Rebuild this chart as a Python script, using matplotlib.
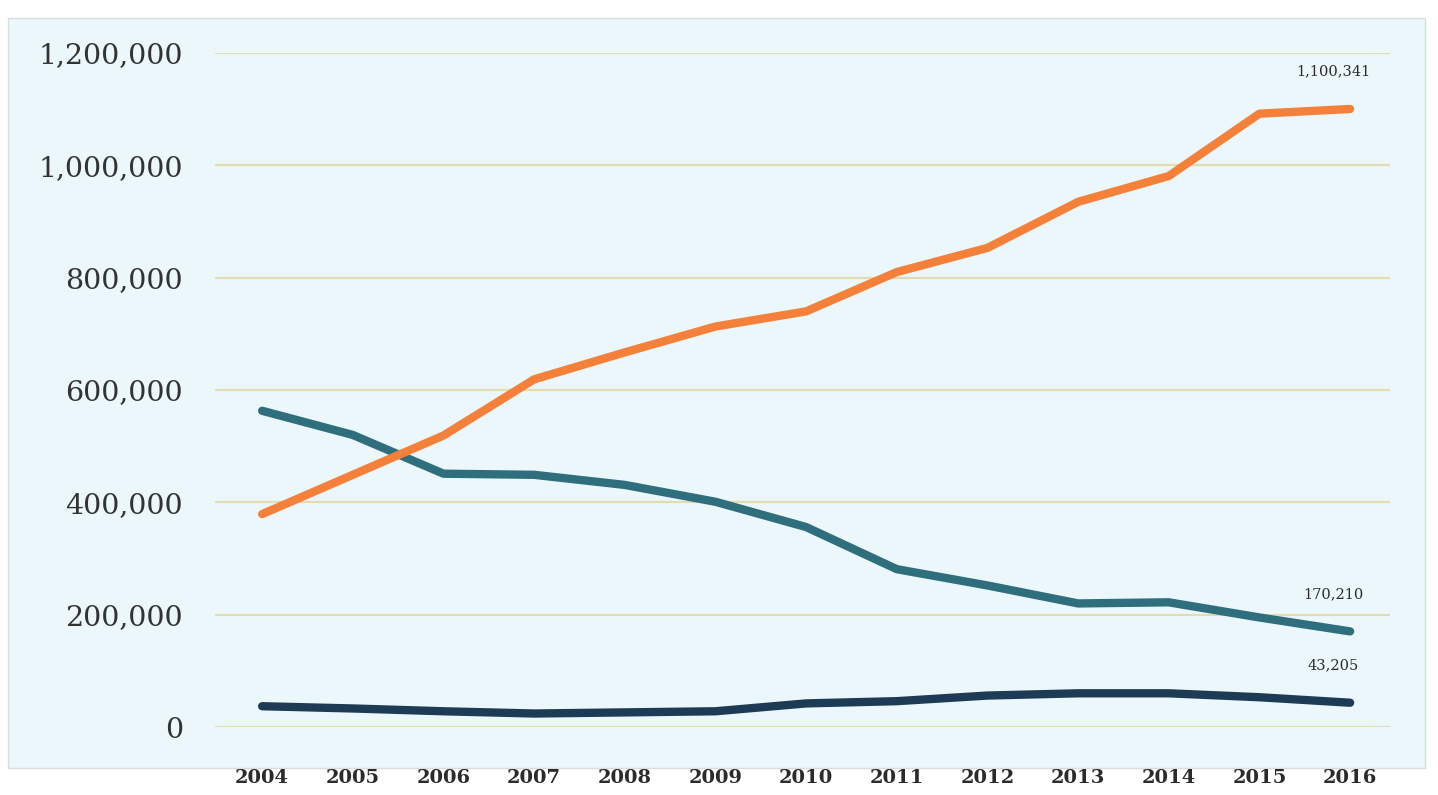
#!/usr/bin/env python3
"""Three-series line chart, 2004-2016, on a pale blue panel."""
import matplotlib

matplotlib.use("Agg")
import matplotlib.pyplot as plt
from matplotlib.patches import Rectangle
from matplotlib.ticker import FuncFormatter

years = list(range(2004, 2017))
orange_series = [379000, 449000, 519000, 619000, 667000, 713000, 740000,
                 810000, 853000, 935000, 981000, 1092000, 1100341]
teal_series = [563000, 520000, 451000, 449000, 431000, 401000, 356000,
               281000, 252000, 220000, 222000, 195000, 170210]
navy_series = [37000, 33000, 28000, 24000, 26000, 28000, 42000,
               46000, 56000, 60000, 60000, 53000, 43205]
y_ticks = [0, 200000, 400000, 600000, 800000, 1000000, 1200000]

ORANGE = "#F5803A"
TEAL = "#2F6E7C"
NAVY = "#1E3B55"
PANEL = "#EBF7FB"
GRID = "#E2DCB0"
TEXT = "#2B2B2B"


def main() -> None:
    fig = plt.figure(figsize=(14.38, 7.95), dpi=100)
    fig.patch.set_facecolor("white")
    fig.patches.append(Rectangle((8 / 1438, 1 - 768 / 795), 1417 / 1438, 750 / 795,
                                 transform=fig.transFigure, facecolor=PANEL,
                                 edgecolor="#D8DEE0", linewidth=1.0, zorder=-5))

    ax = fig.add_axes([215 / 1438, 1 - 727 / 795, 1175 / 1438, 674 / 795])
    ax.set_zorder(1)
    ax.set_facecolor("none")

    for values, color in ((navy_series, NAVY), (teal_series, TEAL), (orange_series, ORANGE)):
        ax.plot(years, values, color=color, linewidth=6, solid_capstyle="round",
                solid_joinstyle="round", zorder=3, clip_on=False)
        ax.annotate(f"{values[-1]:,}", (years[-1], values[-1]), xytext=(-12, 22),
                    textcoords="offset points", ha="center", va="bottom",
                    fontsize=10.5, family="DejaVu Serif", color=TEXT)

    ax.set_xlim(2003.48, 2016.44)
    ax.set_ylim(0, 1200000)
    ax.set_yticks(y_ticks)
    ax.yaxis.set_major_formatter(FuncFormatter(lambda v, _: f"{int(v):,}"))
    ax.set_xticks(years)
    ax.set_xticklabels([str(y) for y in years])

    ax.grid(axis="y", color=GRID, linewidth=1.6, zorder=1)
    ax.grid(axis="x", visible=False)
    for spine in ax.spines.values():
        spine.set_visible(False)
    ax.tick_params(axis="y", length=0, pad=23, labelsize=20.5, labelcolor="#333333")
    ax.tick_params(axis="x", length=0, pad=30, labelsize=14, labelcolor=TEXT)
    for label in ax.get_yticklabels():
        label.set_family("DejaVu Serif")
    for label in ax.get_xticklabels():
        label.set_family("DejaVu Serif")
        label.set_fontweight("bold")

    fig.savefig("out.png", dpi=100, facecolor="white")
    plt.close(fig)


if __name__ == "__main__":
    main()
